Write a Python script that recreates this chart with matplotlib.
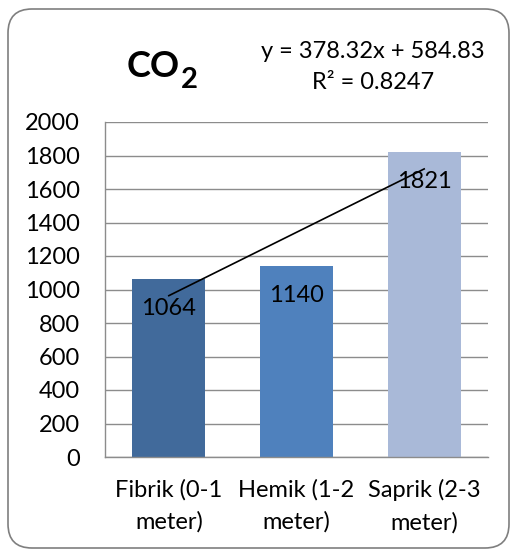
import matplotlib.pyplot as plt
from matplotlib.patches import FancyBboxPatch
from matplotlib.transforms import IdentityTransform

# ── Data ──
categories = ["Fibrik (0-1\nmeter)", "Hemik (1-2\nmeter)", "Saprik (2-3\nmeter)"]
co2_values = [1064, 1140, 1821]
bar_colors = ["#416A9B", "#4F81BD", "#A9B9D8"]
y_ticks = [0, 200, 400, 600, 800, 1000, 1200, 1400, 1600, 1800, 2000]

# linear trendline (x = 1, 2, 3)
slope = 378.32
intercept = 584.83
r_squared = 0.8247

plt.rcParams["font.family"] = ["Lato", "DejaVu Sans"]
font_size = 17
grid_color = "#8C8C8C"

W, H = 511, 552
fig = plt.figure(figsize=(W / 100, H / 100), dpi=100)

# ── Rounded chart border (pixel coordinates) ──
border = FancyBboxPatch((8, H - 548), 501, 539,
                        boxstyle="round,pad=0,rounding_size=24",
                        transform=IdentityTransform(), facecolor="white",
                        edgecolor="#7F7F7F", linewidth=1.2, zorder=-10)
fig.patches.append(border)

ax = fig.add_axes([105 / W, (H - 457) / H, 383 / W, 335 / H])
ax.set_facecolor("none")

x = list(range(len(categories)))
ax.bar(x, co2_values, width=0.572, color=bar_colors, zorder=2)

# data labels just inside the bar tops
for xi, v in zip(x, co2_values):
    ax.annotate(str(v), (xi, v), xytext=(0, -21.5), textcoords="offset points",
                ha="center", va="center", fontsize=font_size, color="black",
                zorder=4)

# trendline
trend_x = [1, 3]
trend_y = [slope * t + intercept for t in trend_x]
ax.plot([t - 1 for t in trend_x], trend_y, color="black", linewidth=1.2, zorder=3)

ax.set_xlim(-0.5, 2.5)
ax.set_ylim(0, 2000)
ax.set_yticks(y_ticks)
ax.set_yticklabels([str(t) for t in y_ticks])
ax.set_xticks(x)
ax.set_xticklabels(categories, linespacing=1.6)
ax.yaxis.grid(True, color=grid_color, linewidth=1.0, zorder=0)
ax.set_axisbelow(True)
ax.tick_params(axis="y", length=0, pad=18, labelsize=font_size)
ax.tick_params(axis="x", length=0, pad=16, labelsize=font_size)

for side in ["top", "right"]:
    ax.spines[side].set_visible(False)
for side in ["left", "bottom"]:
    ax.spines[side].set_color(grid_color)
    ax.spines[side].set_linewidth(1.0)

# ── Title with subscript ──
fig.text(180 / W, (H - 77) / H, "CO", ha="right", va="baseline",
         fontsize=26, fontweight="bold")
fig.text(181 / W, (H - 88) / H, "2", ha="left", va="baseline",
         fontsize=21, fontweight="bold")

# ── Trendline equation ──
fig.text(373 / W, (H - 58) / H, f"y = {slope}x + {intercept}",
         ha="center", va="baseline", fontsize=font_size)
fig.text(373 / W, (H - 89) / H, f"R² = {r_squared}",
         ha="center", va="baseline", fontsize=font_size)

fig.savefig("out.png", dpi=100)
